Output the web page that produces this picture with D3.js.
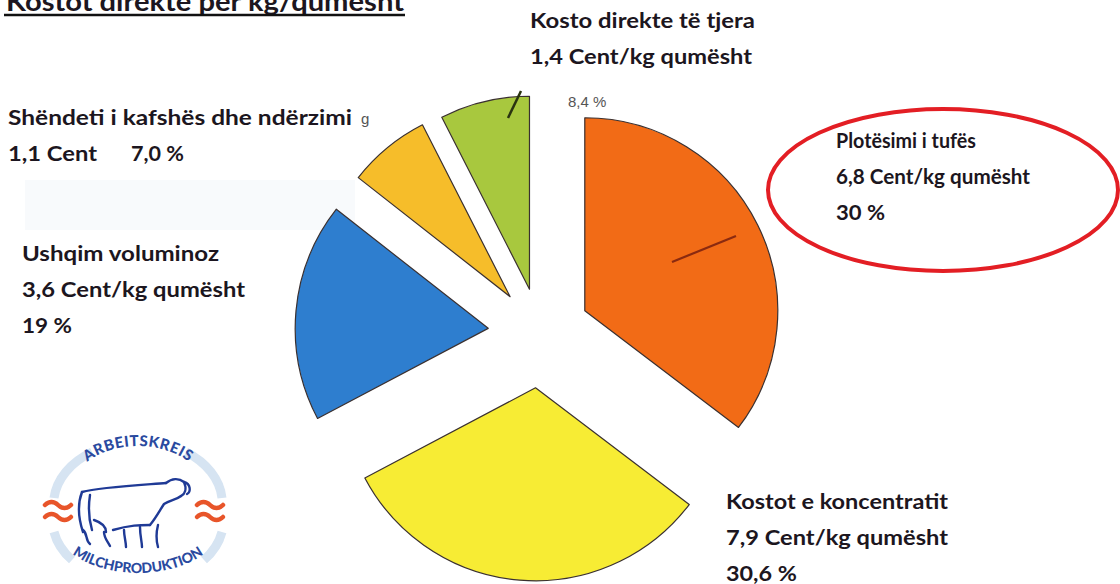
<!DOCTYPE html>
<html>
<head>
<meta charset="utf-8">
<script src="https://cdn.jsdelivr.net/npm/d3@7"></script>
<style>
  body { margin: 0; background: #fff; }
  svg { display: block; }
  .lbl { font-family: Lato, "Open Sans", sans-serif; font-weight: 700; fill: #1c1620; }
  .pct { font-family: "Liberation Sans Narrow", "Liberation Sans", sans-serif; fill: #555; }
</style>
</head>
<body>
<div id="chart"></div>
<script>
const width = 1120, height = 584

// slices, clockwise from 12 o'clock
const categories = ['Plotësimi i tufës', 'Kostot e koncentratit', 'Ushqim voluminoz', 'Shëndeti i kafshës dhe ndërzimi', 'Kosto direkte të tjera']
// share of the circle as drawn in the picture
const shares = [35.3, 31.9, 18.3, 6.9, 7.5]
const cents = ['6,8', '7,9', '3,6', '1,1', '1,4']
const percents = ['30 %', '30,6 %', '19 %', '7,0 %', '8,4 %']
const colors = ['#f26b16', '#f7ec34', '#2e7ecf', '#f6bd2a', '#a8c83e']
const explode = [50, 55, 52, 47, 45]

const title = 'Kostot direkte për kg/qumësht'

const svg = d3.select('#chart').append('svg')
.attr('width', width)
.attr('height', height)

// faint scan ghosting
svg.append('rect').attr('x', 25).attr('y', 180).attr('width', 330).attr('height', 50).attr('fill', '#f8fafc')

const cx = 540, cy = 333, r = 193

const pie = d3.pie().sort(null).value(d => d)
const arc = d3.arc().innerRadius(0).outerRadius(r)

const slices = svg.append('g').attr('transform', `translate(${cx},${cy})`)

slices.selectAll('path')
.data(pie(shares))
.join('path')
.attr('d', arc)
.attr('fill', (d, i) => colors[i])
.attr('stroke', '#3a3030')
.attr('stroke-width', 1.2)
.attr('stroke-linejoin', 'round')
.attr('transform', (d, i) => {
	let a = (d.startAngle + d.endAngle) / 2
	return `translate(${explode[i] * Math.sin(a)},${-explode[i] * Math.cos(a)})`
})

// hand-drawn marks on the scan
svg.append('line').attr('x1', 672).attr('y1', 262).attr('x2', 736).attr('y2', 236)
.attr('stroke', '#8a2a10').attr('stroke-width', 2.2)
svg.append('line').attr('x1', 508).attr('y1', 118).attr('x2', 521).attr('y2', 91)
.attr('stroke', '#2a3410').attr('stroke-width', 2.5)

// title (cut at the top of the scan)
svg.append('text')
.attr('class', 'lbl')
.attr('x', 6)
.attr('y', 11)
.attr('font-size', 26)
.attr('fill', '#111')
.attr('textLength', 398)
.attr('lengthAdjust', 'spacingAndGlyphs')
.text(title)
svg.append('line').attr('x1', 4).attr('y1', 15).attr('x2', 405).attr('y2', 15)
.attr('stroke', '#111').attr('stroke-width', 2.5)

const labels = svg.append('g')

const put = (x, y, t, len) => {
	labels.append('text')
	.attr('class', 'lbl')
	.attr('x', x)
	.attr('y', y)
	.attr('font-size', 20)
	.attr('textLength', len)
	.attr('lengthAdjust', 'spacingAndGlyphs')
	.text(t)
}

put(836, 148, categories[0], 140)
put(836, 184, cents[0] + ' Cent/kg qumësht', 194)
put(836, 220, percents[0], 49)

put(726, 509, categories[1], 222)
put(726, 545, cents[1] + ' Cent/kg qumësht', 222)
put(726, 581, percents[1], 71)

put(22, 261, categories[2], 197)
put(22, 297, cents[2] + ' Cent/kg qumësht', 223)
put(22, 333, percents[2], 50)

put(8, 125, categories[3], 344)
put(8, 161, cents[3] + ' Cent', 89)
put(131, 161, percents[3], 53)

put(530, 28, categories[4], 225)
put(530, 64, cents[4] + ' Cent/kg qumësht', 222)

svg.append('text').attr('class', 'pct').attr('x', 568).attr('y', 107).attr('font-size', 15).text(percents[4])
svg.append('text').attr('class', 'pct').attr('x', 361).attr('y', 124).attr('font-size', 15).text('g')

// red ring round the highlighted slice label
svg.append('ellipse')
.attr('cx', 943).attr('cy', 190).attr('rx', 175).attr('ry', 81)
.attr('fill', 'none').attr('stroke', '#e31e24').attr('stroke-width', 4)

// Arbeitskreis Milchproduktion logo
const logo = svg.append('g')
const defs = svg.append('defs')
defs.append('path').attr('id', 'arcTop').attr('d', 'M 66,500 A 72,54 0 0,1 210,500')
defs.append('path').attr('id', 'arcBot').attr('d', 'M 50,518 A 88,56 0 0,0 226,518')

logo.append('path').attr('d', 'M 54,498 A 84,62 0 0,1 92,452').attr('fill', 'none').attr('stroke', '#d6e4f2').attr('stroke-width', 9)
logo.append('path').attr('d', 'M 186,452 A 84,62 0 0,1 222,498').attr('fill', 'none').attr('stroke', '#d6e4f2').attr('stroke-width', 9)
logo.append('path').attr('d', 'M 222,532 A 84,62 0 0,1 204,560').attr('fill', 'none').attr('stroke', '#d6e4f2').attr('stroke-width', 9)
logo.append('path').attr('d', 'M 72,560 A 84,62 0 0,1 54,532').attr('fill', 'none').attr('stroke', '#d6e4f2').attr('stroke-width', 9)

logo.append('text').attr('font-family', 'Lato, sans-serif').attr('font-weight', 900).attr('font-size', 15)
.attr('fill', '#2a4aa0').attr('letter-spacing', 0.5)
.append('textPath').attr('href', '#arcTop').attr('startOffset', '50%').attr('text-anchor', 'middle').text('ARBEITSKREIS')
logo.append('text').attr('font-family', 'Lato, sans-serif').attr('font-weight', 900).attr('font-size', 14)
.attr('fill', '#2a4aa0').attr('dy', -1)
.append('textPath').attr('href', '#arcBot').attr('startOffset', '50%').attr('text-anchor', 'middle').text('MILCHPRODUKTION')

const wave = 'c 4,-4 9,-4 13,0 s 9,4 13,0'
;[[45, 505], [45, 517], [197, 505], [197, 517]].forEach(p => {
	logo.append('path').attr('d', `M ${p[0]},${p[1]} ${wave}`).attr('fill', 'none').attr('stroke', '#e8552a').attr('stroke-width', 4.5).attr('stroke-linecap', 'round')
})

const cow = [
	'M 82,492 C 100,487 140,485 166,483',
	'M 82,492 C 77,505 79,520 83,532',
	'M 90,495 C 88,508 89,520 92,530',
	'M 83,530 C 88,534 85,540 90,544',
	'M 94,520 C 100,522 106,526 106,532',
	'M 104,532 C 104,538 108,542 110,546',
	'M 113,530 C 130,525 140,525 150,525',
	'M 124,530 C 124,536 126,542 126,547',
	'M 140,527 C 140,536 142,542 142,547',
	'M 150,525 C 156,518 160,510 164,504 C 170,500 176,500 181,496',
	'M 158,525 C 156,533 156,540 158,547',
	'M 166,483 C 172,478 179,478 184,482 C 187,489 185,494 181,496',
	'M 184,482 C 191,484 191,492 187,494'
]
cow.forEach(d => {
	logo.append('path').attr('d', d).attr('fill', 'none').attr('stroke', '#1f3a96').attr('stroke-width', 2.4).attr('stroke-linecap', 'round')
})
</script>
</body>
</html>
